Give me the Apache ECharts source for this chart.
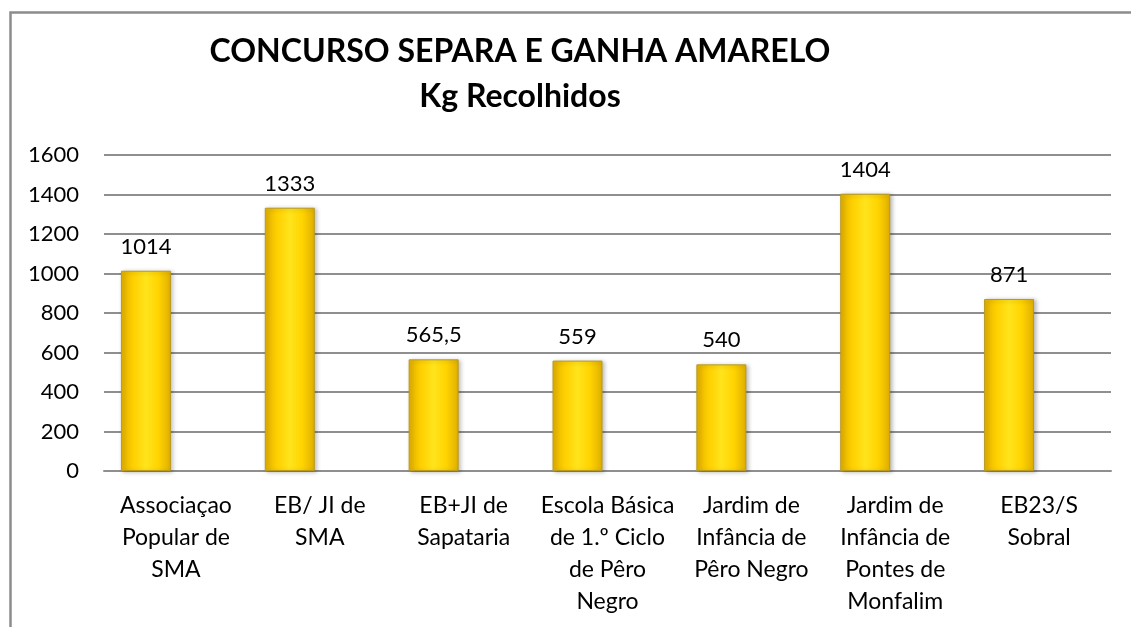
<!DOCTYPE html>
<html>
<head>
<meta charset="utf-8">
<script src="https://cdn.jsdelivr.net/npm/echarts@6/dist/echarts.min.js"></script>
<style>
html,body{margin:0;padding:0;background:#fff;}
#chart{width:1131px;height:627px;}
</style>
</head>
<body>
<div id="chart"></div>
<script>
var titleLine1 = 'CONCURSO SEPARA E GANHA AMARELO';
var titleLine2 = 'Kg Recolhidos';
var categories = [
  'Associaçao\nPopular de\nSMA',
  'EB/ JI de\nSMA',
  'EB+JI de\nSapataria',
  'Escola Básica\nde 1.º Ciclo\nde Pêro\nNegro',
  'Jardim de\nInfância de\nPêro Negro',
  'Jardim de\nInfância de\nPontes de\nMonfalim',
  'EB23/S\nSobral'
];
var values = [1014, 1333, 565.5, 559, 540, 1404, 871];
var yTicks = {min: 0, max: 1600, interval: 200};

var FONT = 'Lato';
var chart = echarts.init(document.getElementById('chart'));
var barFill = new echarts.graphic.LinearGradient(0, 0, 1, 0, [
  {offset: 0, color: '#E2B000'},
  {offset: 0.25, color: '#FFD000'},
  {offset: 0.5, color: '#FFE41C'},
  {offset: 0.75, color: '#FFD400'},
  {offset: 1, color: '#E0AE00'}
]);
chart.setOption({
  animation: false,
  backgroundColor: '#fff',
  title: [
    {text: titleLine1, left: 515, top: 31, textAlign: 'center',
     textStyle: {fontFamily: FONT, fontWeight: 'bold', fontSize: 32, color: '#000'}},
    {text: titleLine2, left: 515, top: 76, textAlign: 'center',
     textStyle: {fontFamily: FONT, fontWeight: 'bold', fontSize: 32, color: '#000'}}
  ],
  graphic: [{
    type: 'rect', left: 8, top: 10,
    shape: {x: 0, y: 0, width: 1150, height: 640},
    style: {fill: 'none', stroke: '#8c8c8c', lineWidth: 2.5},
    silent: true
  }],
  grid: {left: 104, right: 20, top: 155, bottom: 156},
  xAxis: {
    type: 'category',
    data: categories,
    axisLine: {show: true, lineStyle: {color: '#8f8f8f', width: 2}},
    axisTick: {show: false},
    axisLabel: {interval: 0, fontFamily: FONT, fontSize: 23, color: '#000', lineHeight: 32, margin: 19}
  },
  yAxis: {
    type: 'value',
    min: yTicks.min, max: yTicks.max, interval: yTicks.interval,
    axisLine: {show: false},
    axisTick: {show: false},
    splitLine: {lineStyle: {color: '#8f8f8f', width: 2}},
    axisLabel: {fontFamily: FONT, fontSize: 22, color: '#000', margin: 25,
      formatter: function (v) { return String(v); }}
  },
  series: [{
    type: 'bar',
    data: values,
    barWidth: 50,
    barGap: '20%',
    itemStyle: {color: barFill, borderColor: '#B89A20', borderWidth: 1,
      shadowBlur: 4, shadowColor: 'rgba(0,0,0,0.25)', shadowOffsetX: 2, shadowOffsetY: 1},
    label: {show: true, position: 'top', distance: 13, fontFamily: FONT, fontSize: 22, color: '#000',
      formatter: function (p) { return String(p.value).replace('.', ','); }}
  }, {
    type: 'bar',
    data: values.map(function () { return '-'; }),
    barWidth: 50
  }]
});
</script>
</body>
</html>
